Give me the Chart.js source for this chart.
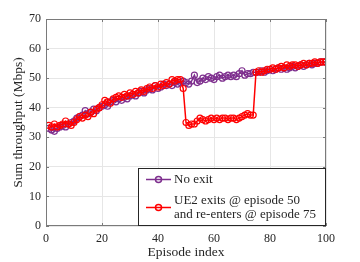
<!DOCTYPE html>
<html lang="en">
<head>
<meta charset="UTF-8">
<title>Sum throughput</title>
<script src="https://cdn.jsdelivr.net/npm/chart.js"></script>
<style>
  body { margin: 0; background: #fff; }
  #wrap { width: 360px; height: 262px; }
</style>
</head>
<body>
<div id="wrap"><canvas id="chart" width="360" height="262"></canvas></div>
<script>
// episode numbers (x axis)
const episodes = [
  1, 2, 3, 4, 5, 6, 7, 8, 9, 10, 11, 12, 13, 14, 15, 16, 17, 18, 19, 20,
  21, 22, 23, 24, 25, 26, 27, 28, 29, 30, 31, 32, 33, 34, 35, 36, 37, 38, 39, 40,
  41, 42, 43, 44, 45, 46, 47, 48, 49, 50, 51, 52, 53, 54, 55, 56, 57, 58, 59, 60,
  61, 62, 63, 64, 65, 66, 67, 68, 69, 70, 71, 72, 73, 74, 75, 76, 77, 78, 79, 80,
  81, 82, 83, 84, 85, 86, 87, 88, 89, 90, 91, 92, 93, 94, 95, 96, 97, 98, 99, 100
];

// sum throughput (Mbps), no exit
const noExit = [
  33.0, 32.5, 32.0, 33.0, 33.5, 34.0, 33.5, 34.5, 35.0, 35.5,
  36.5, 37.0, 37.5, 39.0, 38.0, 38.5, 39.5, 39.0, 40.0, 40.5,
  41.0, 40.5, 42.0, 42.5, 42.0, 43.0, 42.5, 43.5, 43.0, 44.0,
  44.5, 44.0, 45.0, 45.5, 45.0, 46.0, 46.5, 46.0, 47.5, 46.5,
  47.0, 48.0, 47.5, 48.0, 47.5, 48.5, 48.0, 48.5, 49.0, 48.5,
  48.0, 49.0, 51.0, 48.5, 49.0, 50.0, 49.5, 50.5, 50.0, 49.5,
  50.5, 51.0, 50.0, 50.5, 51.0, 50.5, 51.0, 50.5, 51.5, 52.5,
  51.0, 51.5, 51.5, 52.0, 52.0, 52.0, 52.5, 52.0, 52.5, 53.0,
  52.5, 53.0, 53.5, 53.0, 53.5, 53.0, 53.5, 54.0, 53.5, 54.0,
  54.5, 54.0, 54.5, 55.0, 54.5, 55.0, 55.0, 55.5, 55.5, 55.5
];

// sum throughput (Mbps), UE2 exits @ 50 and re-enters @ 75
const exitReenter = [
  34.0, 33.5, 34.5, 33.5, 34.0, 34.5, 35.5, 34.5, 34.0, 35.0,
  36.0, 37.0, 36.5, 37.5, 37.0, 38.5, 38.0, 39.5, 40.0, 41.0,
  42.5, 42.0, 41.5, 43.0, 43.5, 44.0, 43.5, 44.5, 44.0, 45.0,
  44.5, 45.5, 45.0, 46.0, 45.5, 46.5, 47.0, 46.5, 47.5, 47.0,
  48.0, 47.5, 48.5, 48.0, 49.5, 49.0, 49.5, 49.5, 46.5, 35.0,
  34.0, 34.5, 34.5, 35.5, 36.5, 36.0, 35.5, 36.0, 36.5, 36.0,
  36.5, 36.0, 36.5, 36.5, 36.0, 36.5, 36.5, 36.0, 36.5, 37.0,
  37.5, 38.0, 37.5, 37.5, 52.0, 52.5, 52.0, 52.5, 53.0, 53.0,
  53.5, 53.0, 53.5, 54.0, 53.5, 54.5, 54.0, 54.5, 54.5, 54.0,
  54.5, 55.0, 54.5, 55.0, 55.0, 55.5, 55.0, 55.5, 55.5, 55.5
];

const seriesLabels = [
  ['No exit'],
  ['UE2 exits @ episode 50', 'and re-enters @ episode 75']
];
const seriesColors = ['#7E2F8E', '#FF0000'];

const serif = "'Liberation Serif', 'DejaVu Serif', serif";
const textColor = '#262626';

// frame around the axes with inward ticks, like a matlab box
const boxPlugin = {
  id: 'box',
  afterDatasetsDraw(chart) {
    const { ctx, chartArea: a, scales: { x, y } } = chart;
    ctx.save();
    ctx.strokeStyle = '#7a7a7a';
    ctx.lineWidth = 1;
    ctx.strokeRect(Math.round(a.left) + 0.5, Math.round(a.top) + 0.5,
      Math.round(a.width) - 1, Math.round(a.height) - 1);
    ctx.beginPath();
    x.ticks.forEach(t => {
      const px = Math.round(x.getPixelForValue(t.value)) + 0.5;
      ctx.moveTo(px, a.bottom); ctx.lineTo(px, a.bottom - 3);
      ctx.moveTo(px, a.top); ctx.lineTo(px, a.top + 3);
    });
    y.ticks.forEach(t => {
      const py = Math.round(y.getPixelForValue(t.value)) + 0.5;
      ctx.moveTo(a.left, py); ctx.lineTo(a.left + 3, py);
      ctx.moveTo(a.right, py); ctx.lineTo(a.right - 3, py);
    });
    ctx.stroke();
    ctx.restore();
  }
};

// legend box in the lower right corner of the axes
const legendPlugin = {
  id: 'boxLegend',
  afterDraw(chart) {
    const { ctx, chartArea: a } = chart;
    const w = 188, h = 58;
    const left = a.right - w, top = a.bottom - h;
    ctx.save();
    ctx.fillStyle = '#fff';
    ctx.fillRect(left, top, w, h);
    ctx.strokeStyle = '#262626';
    ctx.lineWidth = 1;
    ctx.strokeRect(Math.round(left) + 0.5, Math.round(top) + 0.5, w - 1, h - 1);
    ctx.font = '13px ' + serif;
    ctx.textBaseline = 'middle';
    ctx.fillStyle = textColor;
    const rows = [11.5, 39.5];
    seriesLabels.forEach((lines, i) => {
      const cy = top + rows[i];
      ctx.strokeStyle = seriesColors[i];
      ctx.lineWidth = 1.5;
      ctx.beginPath();
      ctx.moveTo(left + 8, cy); ctx.lineTo(left + 33, cy);
      ctx.stroke();
      ctx.beginPath();
      ctx.arc(left + 20.5, cy, 3, 0, Math.PI * 2);
      ctx.stroke();
      const lh = 14.5;
      const y0 = cy - (lines.length - 1) * lh / 2;
      lines.forEach((s, j) => ctx.fillText(s, left + 36, y0 + j * lh));
    });
    ctx.restore();
  }
};

const ctx = document.getElementById('chart').getContext('2d');
new Chart(ctx, {
  type: 'line',
  data: {
    datasets: [
      {
        label: seriesLabels[1].join(' '),
        data: episodes.map((e, i) => ({ x: e, y: exitReenter[i] })),
        borderColor: seriesColors[1],
        pointBorderColor: seriesColors[1],
        order: 0
      },
      {
        label: seriesLabels[0].join(' '),
        data: episodes.map((e, i) => ({ x: e, y: noExit[i] })),
        borderColor: seriesColors[0],
        pointBorderColor: seriesColors[0],
        order: 1
      }
    ]
  },
  options: {
    responsive: false,
    animation: false,
    layout: { padding: { top: 19, right: 34, left: 0, bottom: 0 } },
    elements: {
      line: { borderWidth: 1.5, tension: 0, fill: false },
      point: { radius: 3, borderWidth: 1.2, backgroundColor: 'rgba(0,0,0,0)' }
    },
    plugins: {
      legend: { display: false },
      tooltip: { enabled: false }
    },
    scales: {
      x: {
        type: 'linear',
        min: 0,
        max: 100,
        afterFit(s) { s.height = 36; },
        grid: { color: '#e6e6e6', drawTicks: false },
        border: { display: false },
        ticks: { stepSize: 20, padding: 6, color: textColor, font: { family: serif, size: 12 } },
        title: {
          display: true,
          text: 'Episode index',
          color: textColor,
          font: { family: serif, size: 13.5 },
          padding: { top: 0, bottom: 1 }
        }
      },
      y: {
        min: 0,
        max: 70,
        afterFit(s) { s.width = 46; },
        grid: { color: '#e6e6e6', drawTicks: false },
        border: { display: false },
        ticks: { stepSize: 10, padding: 5, color: textColor, font: { family: serif, size: 12 } },
        title: {
          display: true,
          text: 'Sum throughput (Mbps)',
          color: textColor,
          font: { family: serif, size: 13.5 },
          padding: { top: 10, bottom: 0 }
        }
      }
    }
  },
  plugins: [boxPlugin, legendPlugin]
});
</script>
</body>
</html>
